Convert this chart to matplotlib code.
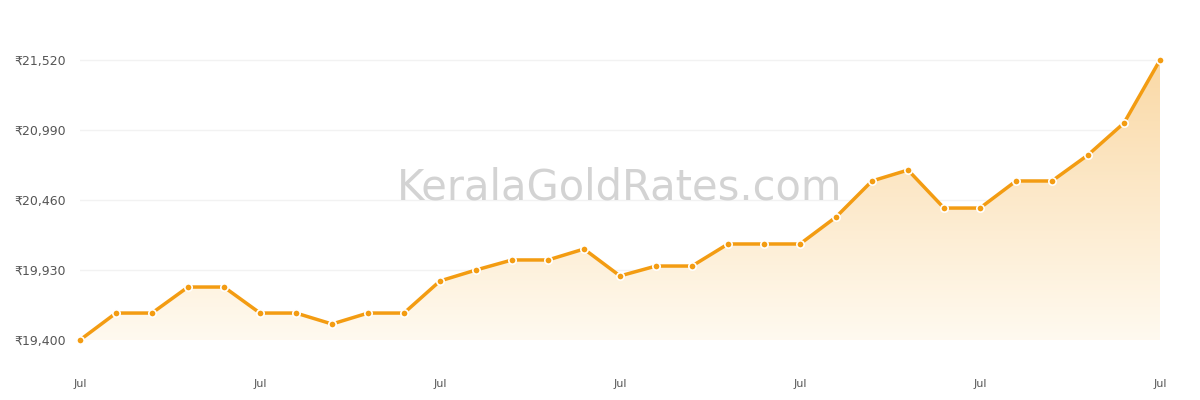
import matplotlib
matplotlib.use("Agg")
import matplotlib.pyplot as plt
import numpy as np
from matplotlib.patches import Polygon

values = [19400, 19604, 19604, 19801, 19801, 19604, 19604, 19521, 19604, 19604,
          19847, 19930, 20006, 20006, 20089, 19885, 19960, 19960, 20127, 20127,
          20127, 20331, 20604, 20687, 20399, 20399, 20604, 20604, 20801, 21043, 21520]
yticks = [19400, 19930, 20460, 20990, 21520]
xtick_pos = [0, 5, 10, 15, 20, 25, 30]
xtick_labels = ["Jul"] * 7

fig = plt.figure(figsize=(12, 4), dpi=100)
ax = fig.add_axes([80/1200, 60/400, 1080/1200, 300/400])
x = np.arange(len(values))
ymin = 19400
ytop = 21520 + 20 * 2120 / 280
ax.set_xlim(0, 30)
ax.set_ylim(ymin, ytop)

# gradient fill
cmap = matplotlib.colors.LinearSegmentedColormap.from_list(
    "g", [(1, 0.98, 0.94, 1.0), (0.98, 0.85, 0.65, 1.0)])
grad = np.linspace(0, 1, 256).reshape(-1, 1)
im = ax.imshow(grad, aspect="auto", cmap=cmap, origin="lower",
               extent=[0, 30, ymin, 21520], zorder=1)
poly = Polygon(np.column_stack([np.r_[x, 30, 0], np.r_[values, ymin, ymin]]),
               closed=True, facecolor="none", edgecolor="none")
ax.add_patch(poly)
im.set_clip_path(poly)

ax.plot(x, values, color="#f39c12", lw=2.5, zorder=3, clip_on=False)
ax.scatter(x, values, s=28, color="#f39c12", edgecolor="white", linewidth=1.2,
           zorder=4, clip_on=False)

ax.set_yticks(yticks)
ax.set_yticklabels(["₹{:,}".format(v) for v in yticks], fontsize=9, color="#555555")
ax.set_xticks(xtick_pos)
ax.set_xticklabels(xtick_labels, fontsize=8, color="#555555")
ax.tick_params(length=0, axis="y", pad=10)
ax.tick_params(length=0, axis="x", pad=28)
ax.grid(axis="y", color="#f2f2f2", lw=1)
ax.set_axisbelow(True)
for s in ax.spines.values():
    s.set_visible(False)

fig.text(620/1200, 1 - 187/400, "KeralaGoldRates.com", fontsize=30, color="#cccccc",
         ha="center", va="center", alpha=0.85, zorder=10)

fig.savefig("out.png", dpi=100)
